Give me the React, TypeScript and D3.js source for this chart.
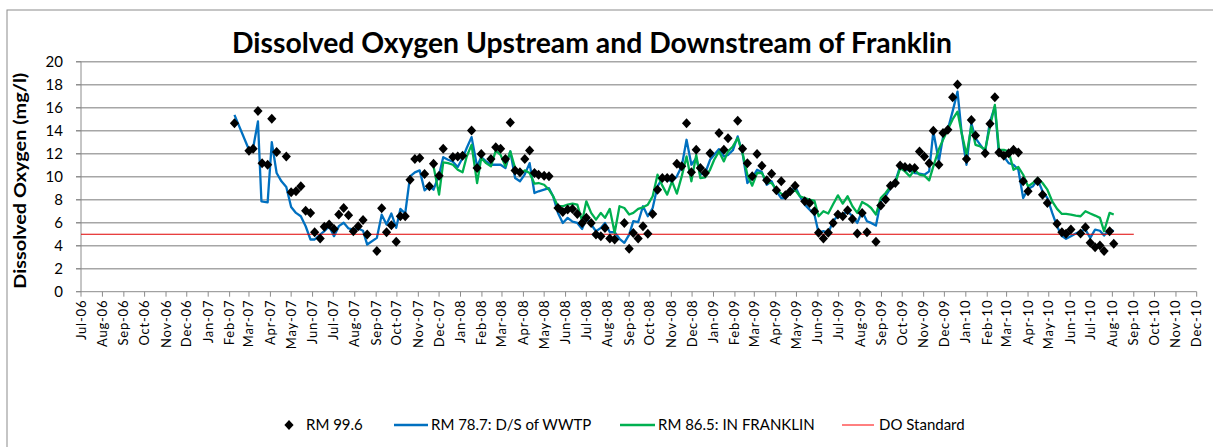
import React from 'react';
import * as d3 from 'd3';

// RM 99.6 (upstream) – diamonds
const rm996Dates = [
  '2007-02-08', '2007-03-01', '2007-03-07', '2007-03-14', '2007-03-20', '2007-03-28', '2007-04-03', '2007-04-10',
  '2007-04-24', '2007-05-01', '2007-05-08', '2007-05-15', '2007-05-22', '2007-05-29', '2007-06-04', '2007-06-12',
  '2007-06-18', '2007-06-25', '2007-07-02', '2007-07-09', '2007-07-16', '2007-07-23', '2007-07-30', '2007-08-06',
  '2007-08-13', '2007-08-19', '2007-09-02', '2007-09-09', '2007-09-16', '2007-09-23', '2007-09-30', '2007-10-06',
  '2007-10-13', '2007-10-20', '2007-10-27', '2007-11-03', '2007-11-10', '2007-11-17', '2007-11-23', '2007-12-01',
  '2007-12-07', '2007-12-21', '2007-12-28', '2008-01-04', '2008-01-17', '2008-01-25', '2008-01-31', '2008-02-14',
  '2008-02-21', '2008-02-28', '2008-03-06', '2008-03-13', '2008-03-20', '2008-03-27', '2008-04-03', '2008-04-10',
  '2008-04-17', '2008-04-23', '2008-05-01', '2008-05-08', '2008-05-21', '2008-05-28', '2008-06-04', '2008-06-11',
  '2008-06-18', '2008-06-25', '2008-07-01', '2008-07-08', '2008-07-15', '2008-07-22', '2008-07-28', '2008-08-04',
  '2008-08-11', '2008-08-25', '2008-09-01', '2008-09-07', '2008-09-14', '2008-09-21', '2008-09-28', '2008-10-05',
  '2008-10-12', '2008-10-19', '2008-10-26', '2008-11-02', '2008-11-09', '2008-11-16', '2008-11-23', '2008-11-30',
  '2008-12-07', '2008-12-13', '2008-12-20', '2008-12-27', '2009-01-09', '2009-01-16', '2009-01-22', '2009-02-05',
  '2009-02-12', '2009-02-19', '2009-02-26', '2009-03-05', '2009-03-12', '2009-03-19', '2009-03-26', '2009-04-02',
  '2009-04-09', '2009-04-15', '2009-04-22', '2009-04-29', '2009-05-13', '2009-05-20', '2009-05-27', '2009-06-02',
  '2009-06-09', '2009-06-16', '2009-06-23', '2009-06-30', '2009-07-07', '2009-07-14', '2009-07-21', '2009-07-28',
  '2009-08-04', '2009-08-11', '2009-08-24', '2009-08-31', '2009-09-07', '2009-09-14', '2009-09-21', '2009-09-28',
  '2009-10-05', '2009-10-12', '2009-10-19', '2009-10-26', '2009-11-02', '2009-11-09', '2009-11-15', '2009-11-23',
  '2009-11-29', '2009-12-06', '2009-12-13', '2009-12-20', '2010-01-02', '2010-01-09', '2010-01-15', '2010-01-29',
  '2010-02-05', '2010-02-12', '2010-02-18', '2010-02-25', '2010-03-04', '2010-03-11', '2010-03-18', '2010-03-25',
  '2010-04-01', '2010-04-15', '2010-04-22', '2010-04-29', '2010-05-13', '2010-05-20', '2010-05-26', '2010-06-02',
  '2010-06-16', '2010-06-23', '2010-06-30', '2010-07-07', '2010-07-14', '2010-07-20', '2010-07-28', '2010-08-03',
];
const rm996Values = [
  14.65, 12.25, 12.43, 15.72, 11.18, 11.04, 15.03, 12.14,
  11.76, 8.64, 8.73, 9.16, 7.05, 6.85, 5.17, 4.62,
  5.64, 5.84, 5.46, 6.71, 7.28, 6.65, 5.26, 5.69,
  6.24, 4.97, 3.53, 7.25, 5.17, 5.78, 4.34, 6.56,
  6.56, 9.74, 11.53, 11.62, 10.23, 9.16, 11.13, 10.09,
  12.43, 11.71, 11.76, 11.82, 14.02, 10.75, 11.97, 11.53,
  12.57, 12.43, 11.53, 14.71, 10.55, 10.38, 11.53, 12.28,
  10.32, 10.17, 10.09, 10.03, 7.28, 6.94, 7.14, 7.2,
  6.76, 5.98, 6.42, 5.98, 4.97, 4.83, 5.55, 4.62,
  4.54, 5.98, 3.73, 5.11, 4.62, 5.69, 5.03, 6.76,
  8.87, 9.88, 9.88, 9.88, 11.13, 10.9, 14.65, 10.38,
  12.34, 10.75, 10.32, 12.05, 13.79, 12.34, 13.35, 14.86,
  12.43, 11.18, 10.03, 11.97, 10.95, 9.7, 10.26, 8.82,
  9.6, 8.38, 8.73, 9.22, 7.86, 7.72, 7.0, 5.12,
  4.62, 5.12, 5.98, 6.71, 6.56, 7.08, 6.33, 5.06,
  6.85, 5.17, 4.34, 7.49, 8.01, 9.22, 9.45, 10.98,
  10.84, 10.75, 10.75, 12.2, 11.76, 11.18, 13.99, 11.04,
  13.79, 14.08, 16.91, 18.01, 11.53, 14.94, 13.58, 12.05,
  14.6, 16.91, 12.11, 11.82, 12.05, 12.34, 12.11, 9.6,
  8.73, 9.6, 8.44, 7.72, 5.9, 5.17, 5.03, 5.4,
  5.06, 5.61, 4.25, 3.87, 4.02, 3.53, 5.26, 4.16,
];

// RM 78.7: D/S of WWTP – blue line
const rm787Dates = [
  '2007-02-08', '2007-03-01', '2007-03-07', '2007-03-14', '2007-03-19', '2007-03-28', '2007-04-03', '2007-04-10',
  '2007-04-17', '2007-04-24', '2007-05-01', '2007-05-08', '2007-05-15', '2007-05-22', '2007-05-29', '2007-06-04',
  '2007-06-12', '2007-06-18', '2007-06-25', '2007-07-02', '2007-07-09', '2007-07-16', '2007-07-23', '2007-07-30',
  '2007-08-06', '2007-08-13', '2007-08-19', '2007-09-02', '2007-09-09', '2007-09-16', '2007-09-23', '2007-09-30',
  '2007-10-06', '2007-10-13', '2007-10-20', '2007-10-27', '2007-11-03', '2007-11-10', '2007-11-17', '2007-11-23',
  '2007-12-01', '2007-12-07', '2007-12-14', '2007-12-21', '2007-12-28', '2008-01-04', '2008-01-10', '2008-01-17',
  '2008-01-25', '2008-01-31', '2008-02-07', '2008-02-14', '2008-02-21', '2008-02-28', '2008-03-06', '2008-03-13',
  '2008-03-20', '2008-03-27', '2008-04-03', '2008-04-10', '2008-04-17', '2008-04-23', '2008-05-01', '2008-05-08',
  '2008-05-14', '2008-05-21', '2008-05-28', '2008-06-04', '2008-06-11', '2008-06-18', '2008-06-25', '2008-07-01',
  '2008-07-08', '2008-07-15', '2008-07-22', '2008-07-28', '2008-08-04', '2008-08-11', '2008-08-18', '2008-08-25',
  '2008-09-01', '2008-09-07', '2008-09-14', '2008-09-21', '2008-09-28', '2008-10-05', '2008-10-12', '2008-10-19',
  '2008-10-26', '2008-11-02', '2008-11-09', '2008-11-16', '2008-11-23', '2008-11-30', '2008-12-07', '2008-12-13',
  '2008-12-20', '2008-12-27', '2009-01-02', '2009-01-09', '2009-01-16', '2009-01-22', '2009-01-29', '2009-02-05',
  '2009-02-12', '2009-02-19', '2009-02-26', '2009-03-05', '2009-03-12', '2009-03-19', '2009-03-26', '2009-04-02',
  '2009-04-09', '2009-04-15', '2009-04-22', '2009-04-29', '2009-05-06', '2009-05-13', '2009-05-20', '2009-05-27',
  '2009-06-02', '2009-06-09', '2009-06-16', '2009-06-23', '2009-06-30', '2009-07-07', '2009-07-14', '2009-07-21',
  '2009-07-28', '2009-08-04', '2009-08-11', '2009-08-17', '2009-08-24', '2009-08-31', '2009-09-07', '2009-09-14',
  '2009-09-21', '2009-09-28', '2009-10-05', '2009-10-12', '2009-10-19', '2009-10-26', '2009-11-02', '2009-11-09',
  '2009-11-15', '2009-11-23', '2009-11-29', '2009-12-06', '2009-12-13', '2009-12-20', '2009-12-26', '2010-01-02',
  '2010-01-09', '2010-01-15', '2010-01-22', '2010-01-29', '2010-02-05', '2010-02-12', '2010-02-18', '2010-02-25',
  '2010-03-04', '2010-03-11', '2010-03-18', '2010-03-25', '2010-04-01', '2010-04-08', '2010-04-15', '2010-04-22',
  '2010-04-29', '2010-05-06', '2010-05-13', '2010-05-20', '2010-05-26', '2010-06-02', '2010-06-09', '2010-06-16',
  '2010-06-23', '2010-06-30', '2010-07-07', '2010-07-14', '2010-07-20', '2010-07-28', '2010-08-03',
];
const rm787Values = [
  15.38, 12.34, 12.49, 14.8, 7.86, 7.77, 13.0, 10.32,
  9.6, 9.1, 7.37, 6.85, 6.56, 5.69, 4.54, 4.54,
  4.97, 5.26, 5.7, 4.83, 5.7, 6.0, 5.5, 5.4,
  5.5, 5.3, 4.1, 4.68, 6.7, 5.84, 6.8, 5.55,
  7.2, 6.8, 10.03, 10.38, 10.55, 8.82, 9.16, 8.87,
  10.17, 11.7, 11.47, 11.3, 10.84, 11.62, 12.49, 13.44,
  10.9, 11.71, 11.33, 11.04, 11.04, 11.04, 10.75, 12.2,
  9.88, 9.6, 10.2, 11.18, 8.58, 8.73, 8.87, 9.0,
  8.3, 6.85, 5.98, 6.42, 6.1, 5.98, 5.46, 6.42,
  5.84, 5.26, 5.55, 5.98, 5.17, 5.17, 4.6, 4.25,
  4.97, 6.13, 6.04, 7.43, 6.56, 7.28, 9.16, 9.88,
  9.74, 9.6, 10.03, 10.9, 13.21, 11.04, 11.62, 10.17,
  10.32, 11.47, 11.9, 12.4, 11.76, 11.9, 12.3, 13.5,
  12.05, 9.45, 9.88, 10.6, 10.4, 9.3, 9.6, 8.73,
  8.15, 8.15, 8.58, 9.16, 8.3, 7.57, 7.14, 6.71,
  5.12, 5.26, 5.12, 6.13, 6.62, 6.71, 7.0, 6.56,
  5.98, 7.0, 6.13, 5.98, 5.75, 7.86, 8.3, 9.0,
  9.6, 10.9, 10.6, 10.55, 10.32, 10.26, 10.17, 10.46,
  13.93, 11.33, 13.44, 14.13, 15.7, 17.4, 13.8, 11.04,
  14.65, 13.35, 12.77, 12.2, 14.8, 16.1, 11.9, 11.76,
  11.18, 11.04, 10.6, 8.15, 8.93, 9.16, 9.74, 8.73,
  8.15, 6.85, 5.69, 4.83, 4.6, 4.83, 5.06, 5.26,
  5.4, 4.68, 5.4, 5.3, 4.88, 5.46, 5.26,
];

// RM 86.5: IN FRANKLIN – green line
const rm865Dates = [
  '2007-11-23', '2007-12-01', '2007-12-07', '2007-12-14', '2007-12-21', '2007-12-28', '2008-01-04', '2008-01-10',
  '2008-01-17', '2008-01-25', '2008-01-31', '2008-02-07', '2008-02-14', '2008-02-21', '2008-02-28', '2008-03-06',
  '2008-03-13', '2008-03-20', '2008-03-27', '2008-04-03', '2008-04-10', '2008-04-17', '2008-04-23', '2008-05-01',
  '2008-05-08', '2008-05-14', '2008-05-21', '2008-05-28', '2008-06-04', '2008-06-11', '2008-06-18', '2008-06-25',
  '2008-07-01', '2008-07-08', '2008-07-15', '2008-07-22', '2008-07-28', '2008-08-04', '2008-08-11', '2008-08-18',
  '2008-08-25', '2008-09-01', '2008-09-07', '2008-09-14', '2008-09-21', '2008-09-28', '2008-10-05', '2008-10-12',
  '2008-10-19', '2008-10-26', '2008-11-02', '2008-11-09', '2008-11-16', '2008-11-23', '2008-11-30', '2008-12-07',
  '2008-12-13', '2008-12-20', '2008-12-27', '2009-01-02', '2009-01-09', '2009-01-16', '2009-01-22', '2009-01-29',
  '2009-02-05', '2009-02-12', '2009-02-19', '2009-02-26', '2009-03-05', '2009-03-12', '2009-03-19', '2009-03-26',
  '2009-04-02', '2009-04-09', '2009-04-15', '2009-04-22', '2009-04-29', '2009-05-06', '2009-05-13', '2009-05-20',
  '2009-05-27', '2009-06-02', '2009-06-09', '2009-06-16', '2009-06-23', '2009-06-30', '2009-07-07', '2009-07-14',
  '2009-07-21', '2009-07-28', '2009-08-04', '2009-08-11', '2009-08-17', '2009-08-24', '2009-08-31', '2009-09-07',
  '2009-09-14', '2009-09-21', '2009-09-28', '2009-10-05', '2009-10-12', '2009-10-19', '2009-10-26', '2009-11-02',
  '2009-11-09', '2009-11-15', '2009-11-23', '2009-11-29', '2009-12-06', '2009-12-13', '2009-12-20', '2009-12-26',
  '2010-01-02', '2010-01-09', '2010-01-15', '2010-01-22', '2010-01-29', '2010-02-05', '2010-02-12', '2010-02-18',
  '2010-02-25', '2010-03-04', '2010-03-11', '2010-03-18', '2010-03-25', '2010-04-01', '2010-04-08', '2010-04-15',
  '2010-04-22', '2010-04-29', '2010-05-06', '2010-05-13', '2010-05-20', '2010-05-26', '2010-06-02', '2010-06-09',
  '2010-06-16', '2010-06-23', '2010-06-30', '2010-07-07', '2010-07-14', '2010-07-20', '2010-07-28', '2010-08-03',
];
const rm865Values = [
  10.9, 8.44, 11.24, 11.18, 11.04, 10.6, 10.38, 11.76,
  12.77, 9.45, 11.62, 11.18, 10.9, 12.26, 11.9, 10.9,
  12.2, 10.75, 10.17, 10.55, 10.32, 9.39, 9.45, 9.3,
  8.87, 8.3, 7.43, 7.43, 7.57, 7.66, 7.57, 6.13,
  7.86, 6.85, 6.27, 6.85, 6.42, 7.2, 5.12, 7.43,
  7.28, 6.71, 6.85, 7.2, 7.34, 7.57, 8.3, 10.17,
  9.22, 8.44, 9.6, 8.53, 10.03, 11.76, 9.6, 11.9,
  9.88, 9.94, 10.6, 11.47, 12.2, 11.33, 12.2, 12.63,
  13.35, 12.05, 10.17, 9.22, 10.32, 10.32, 9.5, 9.45,
  8.87, 8.53, 8.3, 8.58, 8.87, 8.3, 8.15, 8.0,
  7.9, 6.56, 7.0, 6.8, 7.6, 8.38, 7.66, 8.3,
  7.43, 6.85, 7.8, 7.57, 7.28, 6.71, 8.15, 8.58,
  9.16, 9.45, 10.75, 10.46, 10.03, 10.6, 10.17, 10.09,
  9.68, 10.9, 12.4, 13.2, 14.1, 15.0, 15.66, 13.8,
  11.9, 14.36, 12.77, 12.63, 12.34, 14.36, 16.24, 12.34,
  12.34, 12.2, 10.6, 10.84, 10.17, 9.16, 9.45, 9.88,
  9.45, 8.87, 7.86, 7.2, 6.76, 6.76, 6.71, 6.62,
  6.56, 7.0, 6.8, 6.62, 6.42, 5.26, 6.85, 6.71,
];

// DO Standard
const standardDates = ['2006-07-01', '2010-09-01'];
const standardValues = [5, 5];

const yTicks = [0, 2, 4, 6, 8, 10, 12, 14, 16, 18, 20];
const axisStart = '2006-07-01';
const axisEnd = '2010-12-01';

const W = 1213;
const H = 447;
const FONT = 'Lato, "Open Sans", sans-serif';

const parse = d3.timeParse('%Y-%m-%d');
const fmt = d3.timeFormat('%b-%y');

const App = () => {
  const start = parse(axisStart) as Date;
  const end = parse(axisEnd) as Date;
  const x = d3.scaleTime().domain([start, end]).range([81, 1196.7]);
  const y = d3.scaleLinear().domain([0, 20]).range([291.7, 61.7]);

  const months = d3.timeMonth.range(start, d3.timeDay.offset(end, 1));

  const toPts = (dates: string[], vals: number[]) =>
    dates.map((d, i) => ({ date: parse(d) as Date, v: vals[i] }));

  const line = d3.line<{ date: Date; v: number }>()
    .x(d => x(d.date))
    .y(d => y(d.v));

  const diamonds = toPts(rm996Dates, rm996Values);
  const blue = toPts(rm787Dates, rm787Values);
  const green = toPts(rm865Dates, rm865Values);
  const red = toPts(standardDates, standardValues);

  const diamond = 'M0,-5L4.6,0L0,5L-4.6,0Z';
  const legendY = 425;

  return (
    <svg width={W} height={H} style={{ position: 'absolute', left: 0, top: 0, background: '#fff' }}>
      <rect x={7} y={10} width={1220} height={460} fill="#fff" stroke="#8c8c8c" strokeWidth={1} />

      <text
        x={592}
        y={53}
        textAnchor="middle"
        fontFamily={FONT}
        fontWeight="bold"
        fontSize={28}
        textLength={720}
        lengthAdjust="spacingAndGlyphs"
        fill="#000"
      >
        Dissolved Oxygen Upstream and Downstream of Franklin
      </text>

      {/* gridlines */}
      {yTicks.filter(t => t > 0).map(t => (
        <line key={'g' + t} x1={76} x2={1196.7} y1={y(t)} y2={y(t)} stroke="#a6a6a6" strokeWidth={1.6} />
      ))}

      {/* y axis */}
      <line x1={81} x2={81} y1={y(20)} y2={y(0)} stroke="#8c8c8c" strokeWidth={1} />
      {yTicks.map(t => (
        <g key={'yt' + t}>
          <line x1={76} x2={81} y1={y(t)} y2={y(t)} stroke="#8c8c8c" />
          <text x={63} y={y(t)} dy="0.35em" textAnchor="end" fontFamily={FONT} fontSize={15} fill="#000">{t}</text>
        </g>
      ))}
      <text
        transform={`translate(26,${(y(0) + y(20)) / 2 + 4}) rotate(-90)`}
        textAnchor="middle"
        fontFamily={FONT}
        fontWeight="bold"
        fontSize={17}
        textLength={216}
        lengthAdjust="spacingAndGlyphs"
        fill="#000"
      >
        Dissolved Oxygen (mg/l)
      </text>

      {/* x axis */}
      <line x1={76} x2={1196.7} y1={y(0)} y2={y(0)} stroke="#8c8c8c" strokeWidth={1} />
      {months.map(m => (
        <g key={'xt' + m.getTime()}>
          <line x1={x(m)} x2={x(m)} y1={y(0)} y2={y(0) + 5} stroke="#8c8c8c" />
          <text
            transform={`translate(${x(m) + 4.5},${y(0) + 8}) rotate(-90)`}
            textAnchor="end"
            fontFamily={FONT}
            fontSize={13}
            letterSpacing={0.8}
            fill="#000"
          >
            {fmt(m)}
          </text>
        </g>
      ))}

      {/* series */}
      <path d={line(blue) || ''} fill="none" stroke="#0070C0" strokeWidth={2.3} strokeLinejoin="round" />
      <path d={line(green) || ''} fill="none" stroke="#00B050" strokeWidth={2.3} strokeLinejoin="round" />
      <path d={line(red) || ''} fill="none" stroke="#E00000" strokeWidth={1.1} />
      {diamonds.map((d, i) => (
        <path key={'d' + i} d={diamond} transform={`translate(${x(d.date)},${y(d.v)})`} fill="#000" />
      ))}

      {/* legend */}
      <g fontFamily={FONT} fontSize={15} fill="#000">
        <path d={diamond} transform={`translate(289,${legendY})`} fill="#000" />
        <text x={306} y={legendY} dy="0.35em">RM 99.6</text>
        <line x1={394} x2={428} y1={legendY} y2={legendY} stroke="#0070C0" strokeWidth={2.3} />
        <text x={431} y={legendY} dy="0.35em">RM 78.7: D/S of WWTP</text>
        <line x1={620} x2={655} y1={legendY} y2={legendY} stroke="#00B050" strokeWidth={2.3} />
        <text x={658} y={legendY} dy="0.35em">RM 86.5: IN FRANKLIN</text>
        <line x1={842} x2={874} y1={legendY} y2={legendY} stroke="#FF0000" strokeWidth={1} />
        <text x={879} y={legendY} dy="0.35em">DO Standard</text>
      </g>
    </svg>
  );
};

export default App;
